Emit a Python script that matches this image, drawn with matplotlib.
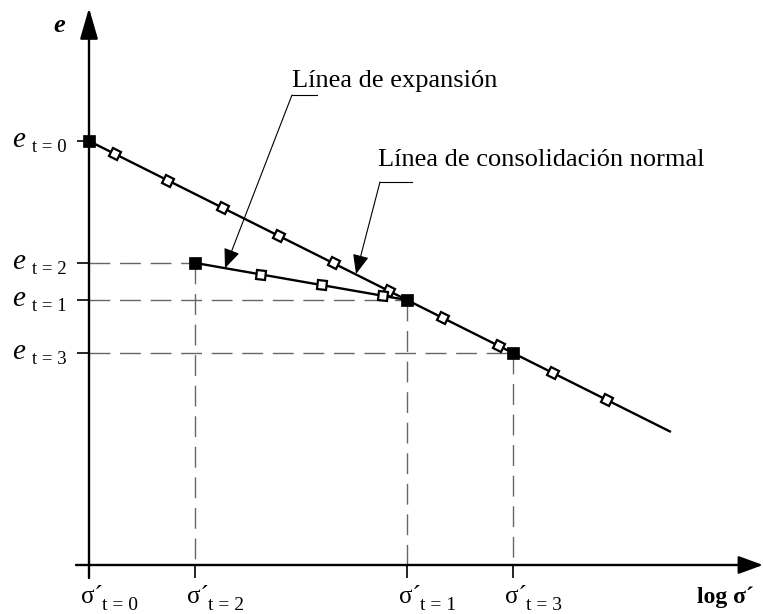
import matplotlib
matplotlib.use('Agg')
import matplotlib.pyplot as plt
from matplotlib.markers import MarkerStyle
from matplotlib.transforms import Affine2D

# ---------------- data (schematic units: x = log sigma', y = void ratio e) -------------
state_names = ['t = 0', 't = 2', 't = 1', 't = 3']
log_sigma = [0.0, 1.0, 3.0, 4.0]          # sigma' at each stage
e_state = [8.0, 5.7, 5.0, 4.0]            # e at each stage

ncl_x = [0.0, 3.0, 4.0, 5.48]             # normal consolidation line
ncl_e = [8.0, 5.0, 4.0, 2.52]
ncl_pts_x = [0.245, 0.745, 1.264, 1.792, 2.311, 2.83, 3.34, 3.87, 4.38, 4.89]
ncl_pts_e = [7.75, 7.25, 6.74, 6.21, 5.69, 5.17, 4.66, 4.13, 3.62, 3.11]

exp_x = [1.0, 3.0]                        # expansion (unloading) line
exp_e = [5.7, 5.0]
exp_pts_x = [1.62, 2.20, 2.77]
exp_pts_e = [5.48, 5.28, 5.08]

label_exp = 'Línea de expansión'
label_ncl = 'Línea de consolidación normal'
exp_arrow_tip = (1.283, 5.60)
ncl_arrow_tip = (2.519, 5.49)

# ---------------- layout ----------------
W, H = 763, 614
X0, Y0, SX, SY = 89, 565, 106.0, 53.0    # pixel position of origin and pixels per unit


def px_x(p):
    return (p - X0) / SX


def px_y(p):
    return (Y0 - p) / SY


SERIF = 'Liberation Serif'
fig = plt.figure(figsize=(W / 100, H / 100), dpi=100)
ax = fig.add_axes([0, 0, 1, 1])
ax.set_xlim(px_x(0), px_x(W))
ax.set_ylim(px_y(H), px_y(0))
ax.axis('off')

# axes with arrows
ax.annotate('', xy=(0, px_y(8)), xytext=(0, px_y(578)),
            arrowprops=dict(arrowstyle='-|>,head_length=1.9,head_width=0.55',
                            mutation_scale=10, lw=1.7, color='black', fc='black',
                            shrinkA=0, shrinkB=0))
ax.annotate('', xy=(px_x(763), 0), xytext=(px_x(76), 0),
            arrowprops=dict(arrowstyle='-|>,head_length=1.5,head_width=0.55',
                            mutation_scale=10, lw=1.7, color='black', fc='black',
                            shrinkA=0, shrinkB=0))

# ticks
for xs in log_sigma:
    ax.plot([xs, xs], [0, px_y(578)], color='black', lw=1.2, solid_capstyle='butt')
for es in e_state:
    ax.plot([px_x(77), 0], [es, es], color='black', lw=1.2, solid_capstyle='butt')

# dashed guide lines
dash = (0, (15, 7))
for xs, es in zip(log_sigma[1:], e_state[1:]):
    ax.plot([0, xs], [es, es], color='#666666', lw=1.0, linestyle=dash, zorder=1)
    ax.plot([xs, xs], [es, 0], color='#666666', lw=1.0, linestyle=dash, zorder=1)

# lines
ax.plot(ncl_x, ncl_e, color='black', lw=1.7, zorder=2)
ax.plot(exp_x, exp_e, color='black', lw=1.7, zorder=2)

# open (tilted square) markers
m_ncl = MarkerStyle('s', transform=Affine2D().rotate_deg(-26.6))
m_exp = MarkerStyle('s', transform=Affine2D().rotate_deg(-9.9))
ax.plot(ncl_pts_x, ncl_pts_e, linestyle='none', marker=m_ncl, ms=6.4, mfc='white',
        mec='black', mew=1.6, zorder=3)
ax.plot(exp_pts_x, exp_pts_e, linestyle='none', marker=m_exp, ms=6.4, mfc='white',
        mec='black', mew=1.6, zorder=3)

# filled state markers
ax.plot(log_sigma, e_state, linestyle='none', marker='s', ms=8.2, mfc='black',
        mec='black', mew=0.5, zorder=4)

# axis labels
ax.text(px_x(53), px_y(32), 'e', fontfamily=SERIF, fontstyle='italic',
        fontweight='bold', fontsize=19, ha='left', va='baseline')
ax.text(px_x(697), px_y(603), 'log σ´', fontfamily=SERIF, fontweight='bold',
        fontsize=17, ha='left', va='baseline')

# e labels
for name, es in zip(state_names, e_state):
    base = Y0 - es * SY
    ax.text(px_x(12), px_y(base + 6), 'e', fontfamily=SERIF, fontstyle='italic',
            fontsize=21, ha='left', va='baseline')
    ax.text(px_x(32), px_y(base + 11), name, fontfamily=SERIF, fontsize=13.5,
            ha='left', va='baseline')

# sigma labels
for name, xs in zip(state_names, log_sigma):
    xp = X0 + xs * SX
    ax.text(px_x(xp - 8), px_y(603), 'σ´', fontfamily=SERIF, fontsize=18,
            ha='left', va='baseline')
    ax.text(px_x(xp + 13), px_y(610), name, fontfamily=SERIF, fontsize=14,
            ha='left', va='baseline')

# annotations with leader lines
arrow_kw = dict(arrowstyle='-|>,head_length=1.2,head_width=0.5', mutation_scale=10,
                lw=0.8, color='black', fc='black', shrinkA=0, shrinkB=0)
ax.text(px_x(292), px_y(87), label_exp, fontfamily=SERIF, fontsize=19,
        ha='left', va='baseline')
ax.plot([px_x(292), px_x(317)], [px_y(95), px_y(95)], color='black', lw=0.8)
ax.annotate('', xy=exp_arrow_tip, xytext=(px_x(292), px_y(95)), arrowprops=arrow_kw)

ax.text(px_x(378), px_y(166), label_ncl, fontfamily=SERIF, fontsize=19,
        ha='left', va='baseline')
ax.plot([px_x(380), px_x(412)], [px_y(182), px_y(182)], color='black', lw=0.8)
ax.annotate('', xy=ncl_arrow_tip, xytext=(px_x(380), px_y(182)), arrowprops=arrow_kw)

fig.savefig('out.png', dpi=100, facecolor='white')
